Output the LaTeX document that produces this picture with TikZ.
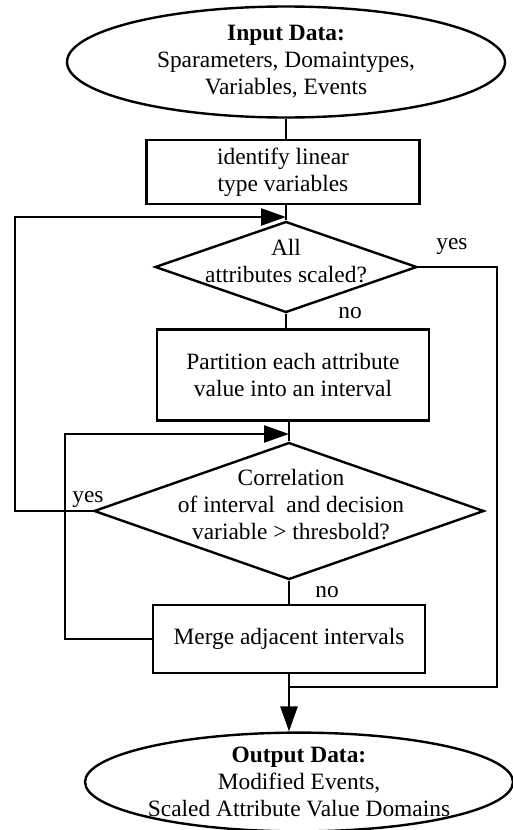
\documentclass[tikz,border=0pt]{standalone}
\usepackage{fontspec}
\setmainfont{Liberation Serif}
\usetikzlibrary{shapes.geometric,arrows.meta}
\begin{document}
\begin{tikzpicture}[x=.5pt,y=-.5pt,line width=1.2pt,
  font=\fontsize{11.7}{13.5}\selectfont,
  box/.style={draw,rectangle,inner sep=0pt,align=center},
  oval/.style={draw,ellipse,inner sep=0pt,align=center},
  dia/.style={draw,diamond,inner sep=0pt},
  arr/.style={-{Triangle[length=12.5pt,width=8.5pt]}}]
\useasboundingbox (0,0) rectangle (513,830);
\node[oval,minimum width=219pt,minimum height=55.5pt](in) at(286,62){\textbf{Input Data:}\\Sparameters, Domaintypes,\\Variables, Events};
\node[box,minimum width=136.5pt,minimum height=32pt](id) at(283,172){identify linear\\type variables};
\node[dia,minimum width=131pt,minimum height=45.5pt](d1) at(286,267){};
\node[align=center](t1) at(286,261){All\\attributes scaled?};
\node[box,minimum width=136pt,minimum height=45.5pt](pa) at(293,375){Partition each attribute\\value into an interval};
\node[dia,minimum width=195pt,minimum height=68.5pt](d2) at(289,511){};
\node[align=center](t2) at(291,505){Correlation\\of interval\ \ and decision\\variable > thresbold?};
\node[box,minimum width=136pt,minimum height=34pt](mg) at(289,639){Merge adjacent intervals};
\node[oval,minimum width=214pt,minimum height=49pt](out) at(299,782){\textbf{Output Data:}\\Modified Events,\\Scaled Attribute Value Domains};
% labels
\node(y1) at(452,247){yes};
\node(n1) at(350,313){no};
\node(y2) at(88,500){yes};
\node(n2) at(327,592){no};
% junctions
\coordinate (j1) at(286,217);
\coordinate (l1) at(15,217);
\coordinate (j2) at(289,434);
\coordinate (l2) at(65,434);
\coordinate (r1) at(497,687);
% main line
\draw (in.south) -- (in.south |- id.north);
\draw (id.south -| d1.north) -- (d1.north);
\draw (d1.south) -- (d1.south |- pa.north);
\draw (d2.north |- pa.south) -- (d2.north);
\draw (d2.south) -- (d2.south |- mg.north);
\draw[arr] (mg.south) -- (mg.south |- out.north);
% loops
\draw[arr] (d2.west) -| (l1) -- (j1);
\draw[arr] (mg.west) -| (l2) -- (j2);
\draw (d1.east) -| (r1) -- (r1 -| mg.south);
\end{tikzpicture}
\end{document}
